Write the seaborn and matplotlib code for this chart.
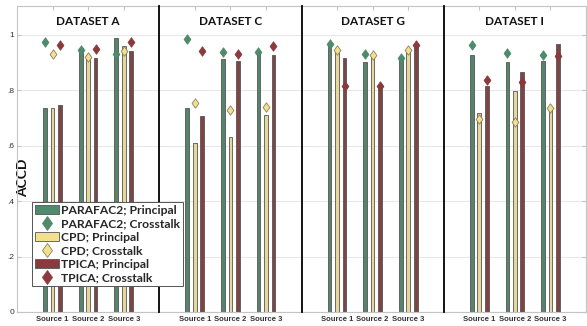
import matplotlib
matplotlib.use("Agg")
import matplotlib.pyplot as plt
from matplotlib.patches import Patch
from matplotlib.lines import Line2D
from matplotlib.path import Path
from matplotlib.markers import MarkerStyle
import numpy as np
import pandas as pd
import seaborn as sns

# ---- data -------------------------------------------------------------
datasets = ["DATASET A", "DATASET C", "DATASET G", "DATASET I"]
sources = ["Source 1", "Source 2", "Source 3"]
methods = ["PARAFAC2", "CPD", "TPICA"]

# rows: datasets A, C, G, I ; columns: Source 1..3
parafac2_principal = [[0.735, 0.950, 0.989],
                      [0.737, 0.913, 0.931],
                      [0.967, 0.901, 0.917],
                      [0.925, 0.900, 0.905]]
parafac2_crosstalk = [[0.973, 0.945, 0.931],
                      [0.983, 0.937, 0.937],
                      [0.967, 0.931, 0.917],
                      [0.964, 0.934, 0.928]]
cpd_principal = [[0.735, 0.926, 0.959],
                 [0.610, 0.631, 0.709],
                 [0.943, 0.925, 0.946],
                 [0.717, 0.797, 0.737]]
cpd_crosstalk = [[0.929, 0.918, 0.941],
                 [0.753, 0.727, 0.739],
                 [0.943, 0.925, 0.946],
                 [0.697, 0.685, 0.737]]
tpica_principal = [[0.745, 0.917, 0.940],
                   [0.705, 0.905, 0.925],
                   [0.916, 0.813, 0.965],
                   [0.813, 0.865, 0.965]]
tpica_crosstalk = [[0.964, 0.947, 0.975],
                   [0.940, 0.929, 0.958],
                   [0.813, 0.813, 0.961],
                   [0.835, 0.829, 0.923]]

yticks = [0, 0.2, 0.4, 0.6, 0.8, 1.0]
ytick_labels = ["0", ".2", ".4", ".6", ".8", "1"]

# ---- long-form table ----------------------------------------------------
principal = {"PARAFAC2": parafac2_principal, "CPD": cpd_principal, "TPICA": tpica_principal}
crosstalk = {"PARAFAC2": parafac2_crosstalk, "CPD": cpd_crosstalk, "TPICA": tpica_crosstalk}
rows = []
for di, ds in enumerate(datasets):
    for m in methods:
        for si, src in enumerate(sources):
            rows.append({"dataset": ds, "source": src, "method": m,
                         "principal": principal[m][di][si],
                         "crosstalk": crosstalk[m][di][si]})
df = pd.DataFrame(rows)

# ---- style --------------------------------------------------------------
palette = {"PARAFAC2": "#4f8a6c", "CPD": "#f3e08e", "TPICA": "#8a3a3c"}
edge = {"PARAFAC2": "#3f5f4f", "CPD": "#8a8060", "TPICA": "#5a2a2a"}
sns.set_style("white")
plt.rcParams["font.family"] = ["Lato", "DejaVu Sans"]

diamond = MarkerStyle(Path([(0, 1), (0.72, 0), (0, -1), (-0.72, 0), (0, 1)],
                           [Path.MOVETO, Path.LINETO, Path.LINETO, Path.LINETO, Path.CLOSEPOLY]))

fig = plt.figure(figsize=(5.87, 3.26), dpi=100)
axes = fig.subplots(1, 4, sharey=True)
fig.subplots_adjust(left=17 / 587, right=586 / 587, top=1 - 6 / 326,
                    bottom=1 - 312 / 326, wspace=0)

frame_col = "#c4c4c4"
for i, (ax, ds) in enumerate(zip(axes, datasets)):
    sub = df[df["dataset"] == ds]
    ax.set_axisbelow(True)
    ax.yaxis.grid(True, color="#e8e8e8", linewidth=0.8)
    sns.barplot(data=sub, x="source", y="principal", hue="method",
                order=sources, hue_order=methods, palette=palette,
                width=0.63, gap=0.5, errorbar=None, legend=False,
                linewidth=0.6, edgecolor="#555555", ax=ax, zorder=2)
    sns.pointplot(data=sub, x="source", y="crosstalk", hue="method",
                  order=sources, hue_order=methods, palette=palette,
                  dodge=0.42, linestyle="none", markers="D",
                  errorbar=None, legend=False, ax=ax)
    for ln, m in zip(ax.lines, methods):
        ln.set_marker(diamond)
        ln.set_markersize(6.8)
        ln.set_markeredgecolor(edge[m] if m == "CPD" else palette[m])
        ln.set_markeredgewidth(0.6)
        ln.set_zorder(4)

    ax.set_xlim(-1, 3)
    ax.set_ylim(0, 1.103)
    ax.set_yticks(yticks)
    ax.set_xlabel("")
    ax.set_ylabel("")
    ax.text(0.5, 0.95, ds, transform=ax.transAxes, ha="center", va="center",
            fontsize=8.5, fontweight="bold", color="#111111")
    for s in ["top", "bottom", "right", "left"]:
        ax.spines[s].set_color(frame_col)
        ax.spines[s].set_linewidth(0.8)
    if i > 0:
        ax.spines["left"].set_color("black")
        ax.spines["left"].set_linewidth(1.3)
        ax.spines["left"].set_zorder(5)
    ax.tick_params(axis="x", direction="in", top=True, bottom=False, length=3,
                   color=frame_col, labelsize=5.5, labelcolor="#333333", pad=3)
    for lab in ax.get_xticklabels():
        lab.set_fontfamily(["Liberation Sans", "DejaVu Sans"])
        lab.set_fontweight("bold")
    ax.tick_params(axis="y", direction="in", left=(i == 0), right=(i == 3),
                   length=3, color=frame_col, labelsize=6, labelcolor="#333333", pad=2)

axes[0].set_yticklabels(ytick_labels)
for lab in axes[0].get_yticklabels():
    lab.set_fontfamily(["Liberation Sans", "DejaVu Sans"])
axes[0].set_ylabel("ACCD", fontsize=10, fontweight="bold", color="#111111")
axes[0].yaxis.set_label_coords(0.085, 0.44)

# ---- legend -------------------------------------------------------------
handles = []
labels = []
for m in methods:
    handles.append(Patch(facecolor=palette[m], edgecolor="#555555", linewidth=0.6))
    labels.append(f"{m}; Principal")
    handles.append(Line2D([], [], linestyle="none", marker=diamond, markersize=10,
                          markerfacecolor=palette[m],
                          markeredgecolor=edge[m] if m == "CPD" else palette[m],
                          markeredgewidth=0.6))
    labels.append(f"{m}; Crosstalk")
leg = fig.legend(handles, labels, loc="upper left", bbox_to_anchor=(32 / 587, 1 - 202 / 326),
                 frameon=True, fancybox=False, edgecolor="#555555", framealpha=1,
                 prop={"family": ["Lato", "DejaVu Sans"], "weight": "bold", "size": 8.7},
                 handlelength=2.0, handleheight=0.8, handletextpad=0.15,
                 labelspacing=0.2, borderpad=0.25, borderaxespad=0)
leg.get_frame().set_linewidth(0.7)

fig.savefig("out.png", dpi=100)
